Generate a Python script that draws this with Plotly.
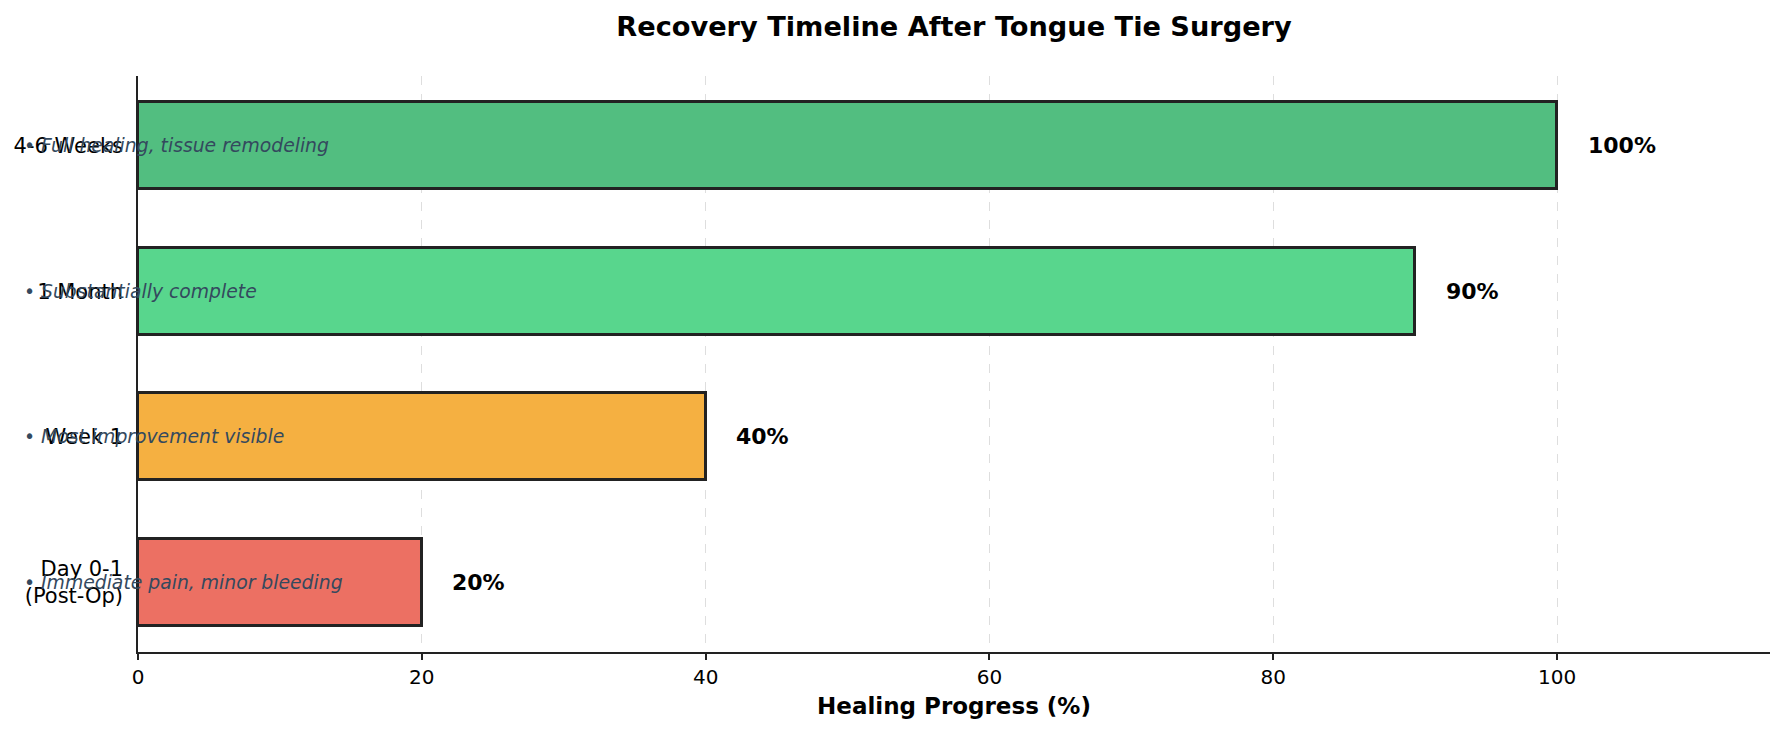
import plotly.graph_objects as go

# Data
stages = ["Day 0-1<br>(Post-Op)", "Week 1", "1 Month", "4-6 Weeks"]
progress = [20, 40, 90, 100]
notes = [
    "• Immediate pain, minor bleeding",
    "• Most improvement visible",
    "• Substantially complete",
    "• Full healing, tissue remodeling",
]
bar_colors = ["#EC7063", "#F5B041", "#58D68D", "#52BE80"]
x_ticks = [0, 20, 40, 60, 80, 100]

FONT = "DejaVu Sans"
XMAX = 115
ypos = list(range(len(stages)))

fig = go.Figure()
fig.add_trace(go.Bar(
    x=progress,
    y=ypos,
    orientation="h",
    width=0.6,
    marker=dict(color=bar_colors, line=dict(color="#222222", width=3)),
    hoverinfo="skip",
    showlegend=False,
))

# value labels
for yi, v in zip(ypos, progress):
    fig.add_annotation(
        x=v + 2, y=yi, xref="x", yref="y",
        text=f"<b>{v}%</b>", showarrow=False,
        xanchor="left", yanchor="middle",
        font=dict(family=FONT, size=22, color="black"),
    )

# italic notes (placed left of the axis, in paper coordinates)
for yi, t in zip(ypos, notes):
    fig.add_annotation(
        x=-8.15 / XMAX, y=yi, xref="paper", yref="y",
        text=f"<i>{t}</i>", showarrow=False,
        xanchor="left", yanchor="middle",
        font=dict(family=FONT, size=18.8, color="#34495e"),
    )

fig.update_layout(
    width=1785, height=733,
    margin=dict(l=138, r=15, t=76, b=81),
    paper_bgcolor="white", plot_bgcolor="white",
    font=dict(family=FONT, color="black"),
    title=dict(
        text="<b>Recovery Timeline After Tongue Tie Surgery</b>",
        x=0.5, xref="paper", xanchor="center",
        y=1 - 26 / 733, yref="container", yanchor="middle",
        font=dict(family=FONT, size=27.2, color="black"),
    ),
    bargap=0,
)

fig.update_xaxes(
    range=[0, XMAX],
    tickvals=x_ticks,
    ticktext=[str(t) for t in x_ticks],
    tickfont=dict(family=FONT, size=20, color="black"),
    ticks="outside", ticklen=6, tickwidth=1.5, tickcolor="#222222",
    showline=True, linecolor="#222222", linewidth=1.5,
    showgrid=True, gridcolor="#dedede", griddash="dash", gridwidth=1,
    zeroline=False,
    title=dict(text="<b>Healing Progress (%)</b>",
               font=dict(family=FONT, size=23, color="black"), standoff=10),
)
fig.update_yaxes(
    range=[-0.48, 3.48],
    tickvals=ypos,
    ticktext=stages,
    tickfont=dict(family=FONT, size=21, color="black"),
    ticks="", ticklabelstandoff=9,
    showline=True, linecolor="#222222", linewidth=1.5,
    showgrid=False, zeroline=False,
)

fig.write_html("out.html")
